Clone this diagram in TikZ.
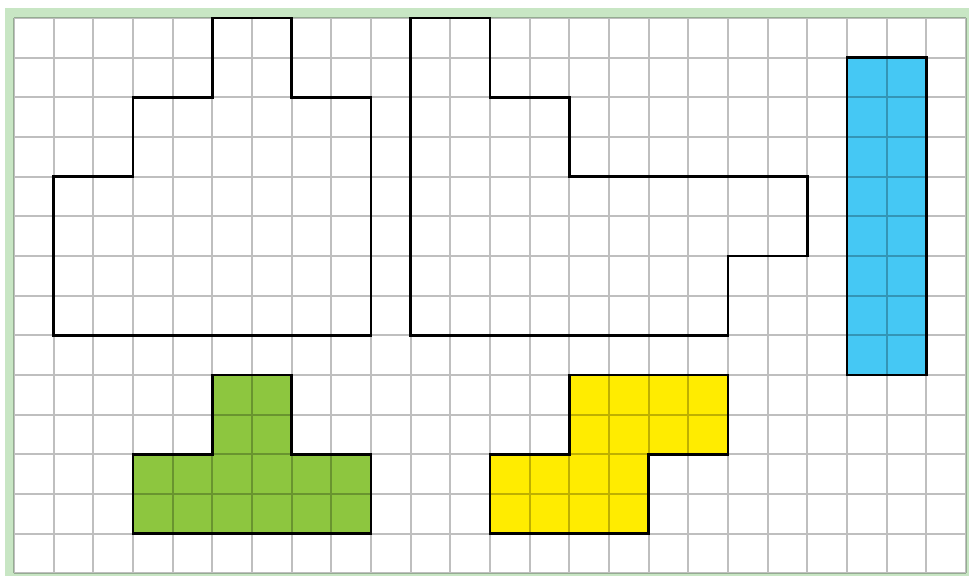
\documentclass[tikz,border=0pt]{standalone}
\usepackage{tikz}

\definecolor{framegreen}{HTML}{C8E6C4}
\definecolor{tblue}{HTML}{45C8F4}
\definecolor{tgreen}{HTML}{8DC63F}
\definecolor{tyellow}{HTML}{FFEC00}

\begin{document}
\begin{tikzpicture}[x=1cm, y=1cm]
\tikzstyle{gridline}=[black, opacity=0.25, line width=1.4pt]
\tikzstyle{outline}=[draw=black, line width=1.8pt, line join=miter]
\useasboundingbox (-0.353,-0.076) rectangle (24.076,14.454);
% frame and paper
\fill[framegreen] (-0.227,-0.076) rectangle (24.076,14.252);
\fill[white] (0,0) rectangle (24,14);
% coloured pieces
\fill[tblue] (21,13) rectangle (23,5);
\fill[tgreen] (5,5) -- (7,5) -- (7,3) -- (9,3) -- (9,1) -- (3,1) -- (3,3) -- (5,3) -- cycle;
\fill[tyellow] (14,5) -- (18,5) -- (18,3) -- (16,3) -- (16,1) -- (12,1) -- (12,3) -- (14,3) -- cycle;
% squared paper
\draw[gridline] (0,0) grid (24,14);
% outlines
\draw[outline] (5,14) -- (7,14) -- (7,12) -- (9,12) -- (9,6) -- (1,6) -- (1,10) -- (3,10) -- (3,12) -- (5,12) -- cycle;
\draw[outline] (10,14) -- (12,14) -- (12,12) -- (14,12) -- (14,10) -- (20,10) -- (20,8) -- (18,8) -- (18,6) -- (10,6) -- cycle;
\draw[outline] (21,13) rectangle (23,5);
\draw[outline] (5,5) -- (7,5) -- (7,3) -- (9,3) -- (9,1) -- (3,1) -- (3,3) -- (5,3) -- cycle;
\draw[outline] (14,5) -- (18,5) -- (18,3) -- (16,3) -- (16,1) -- (12,1) -- (12,3) -- (14,3) -- cycle;
\end{tikzpicture}
\end{document}
